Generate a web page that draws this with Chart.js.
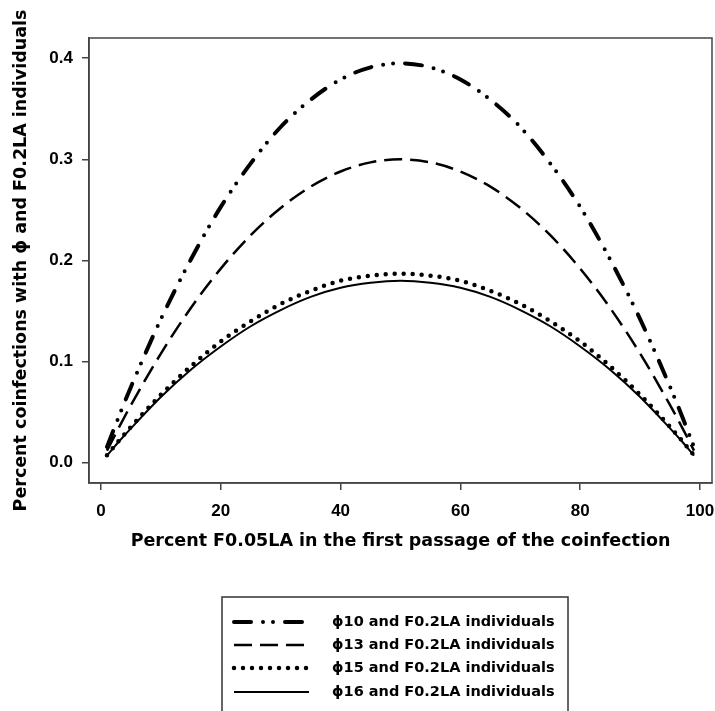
<!DOCTYPE html>
<html>
<head>
<meta charset="utf-8">
<script src="https://cdn.jsdelivr.net/npm/chart.js@4"></script>
<style>
  html, body { margin: 0; padding: 0; background: #fff; }
  #wrap { width: 715px; height: 711px; }
</style>
</head>
<body>
<div id="wrap"><canvas id="chart" width="715" height="711"></canvas></div>
<script>
// percent F0.05LA in first passage
const percentF005 = [1, 3, 5, 10, 15, 20, 25, 30, 35, 40, 45, 50, 55, 60, 65, 70, 75, 80, 85, 90, 95, 97, 99];

const phi10 = [0.0156, 0.046, 0.075, 0.142, 0.201, 0.253, 0.296, 0.332, 0.359, 0.379, 0.391, 0.395,
  0.391, 0.379, 0.359, 0.332, 0.296, 0.253, 0.201, 0.142, 0.075, 0.046, 0.0156];
const phi13 = [0.012, 0.035, 0.057, 0.108, 0.153, 0.192, 0.225, 0.252, 0.273, 0.288, 0.297, 0.300,
  0.297, 0.288, 0.273, 0.252, 0.225, 0.192, 0.153, 0.108, 0.057, 0.035, 0.012];
const phi15 = [0.0074, 0.0218, 0.0355, 0.0673, 0.0954, 0.120, 0.140, 0.157, 0.170, 0.180, 0.185, 0.187,
  0.185, 0.180, 0.170, 0.157, 0.140, 0.120, 0.0954, 0.0673, 0.0355, 0.0218, 0.0074];
const phi16 = [0.0071, 0.021, 0.034, 0.065, 0.092, 0.115, 0.135, 0.151, 0.164, 0.173, 0.178, 0.180,
  0.178, 0.173, 0.164, 0.151, 0.135, 0.115, 0.092, 0.065, 0.034, 0.021, 0.0071];

const seriesLabels = [
  "\u03d510 and F0.2LA individuals",
  "\u03d513 and F0.2LA individuals",
  "\u03d515 and F0.2LA individuals",
  "\u03d516 and F0.2LA individuals"
];
const xTicks = [0, 20, 40, 60, 80, 100];
const yTicks = [0.0, 0.1, 0.2, 0.3, 0.4];

const tickFamily = "'Liberation Sans', Arial, sans-serif";
const textFamily = "'DejaVu Sans', 'Liberation Sans', sans-serif";

Chart.defaults.font.family = tickFamily;
Chart.defaults.font.weight = "bold";
Chart.defaults.color = "#000";

const toPoints = (ys) => ys.map((y, i) => ({ x: percentF005[i], y: y }));

const lineStyles = [
  { borderWidth: 4, borderDash: [17, 12, 0, 10, 0, 12], borderCapStyle: "round" },
  { borderWidth: 2.5, borderDash: [18, 8], borderCapStyle: "butt" },
  { borderWidth: 4.5, borderDash: [0, 9], borderCapStyle: "round" },
  { borderWidth: 2, borderDash: [], borderCapStyle: "butt" }
];

const allSeries = [phi10, phi13, phi15, phi16];

// box around plot + legend drawn by hand (R style)
const framePlugin = {
  id: "frame",
  afterDraw(chart) {
    const { ctx, chartArea: a } = chart;
    ctx.save();
    ctx.strokeStyle = "#444";
    ctx.lineWidth = 1.5;
    ctx.strokeRect(a.left, a.top, a.right - a.left, a.bottom - a.top);

    // legend
    ctx.strokeStyle = "#333";
    ctx.lineWidth = 1.5;
    ctx.strokeRect(222, 597, 346, 130);
    const rowsY = [622, 645, 668, 692];
    chart.data.datasets.forEach((ds, i) => {
      const y = rowsY[i];
      ctx.strokeStyle = "#000";
      ctx.lineWidth = ds.borderWidth;
      ctx.lineCap = ds.borderCapStyle;
      ctx.setLineDash(ds.borderDash);
      ctx.beginPath();
      ctx.moveTo(234, y);
      ctx.lineTo(309, y);
      ctx.stroke();
      ctx.setLineDash([]);
      ctx.fillStyle = "#000";
      ctx.font = "bold 14.5px " + textFamily;
      ctx.textBaseline = "middle";
      ctx.textAlign = "left";
      ctx.fillText(ds.label, 332, y);
    });
    ctx.restore();
  }
};

new Chart(document.getElementById("chart"), {
  type: "line",
  data: {
    datasets: allSeries.map((ys, i) => ({
      label: seriesLabels[i],
      data: toPoints(ys),
      borderColor: "#000",
      backgroundColor: "#000",
      pointRadius: 0,
      cubicInterpolationMode: "monotone",
      fill: false,
      ...lineStyles[i]
    }))
  },
  options: {
    responsive: false,
    animation: false,
    layout: { padding: { top: 38, right: 3, bottom: 138, left: 0 } },
    plugins: {
      legend: { display: false },
      tooltip: { enabled: false }
    },
    scales: {
      x: {
        type: "linear",
        min: -2,
        max: 102,
        afterBuildTicks: (s) => { s.ticks = xTicks.map((v) => ({ value: v })); },
        afterFit: (s) => { s.height = 90; s.paddingLeft = 0; s.paddingRight = 0; },
        grid: { drawOnChartArea: false, tickLength: 7, color: "#444", lineWidth: 1.5 },
        border: { display: true, color: "#444", width: 1.5 },
        ticks: { font: { size: 17, weight: "bold" }, padding: 11, maxRotation: 0 },
        title: {
          display: true,
          text: "Percent F0.05LA in the first passage of the coinfection",
          font: { family: textFamily, size: 17.5, weight: "bold" },
          padding: { top: 0, bottom: 21 }
        }
      },
      y: {
        type: "linear",
        min: -0.02,
        max: 0.42,
        afterBuildTicks: (s) => { s.ticks = yTicks.map((v) => ({ value: v })); },
        afterFit: (s) => { s.width = 89; s.paddingTop = 0; s.paddingBottom = 0; },
        grid: { drawOnChartArea: false, tickLength: 7, color: "#444", lineWidth: 1.5 },
        border: { display: true, color: "#444", width: 1.5 },
        ticks: {
          font: { size: 17, weight: "bold" },
          padding: 9,
          callback: (v) => v.toFixed(1)
        },
        title: {
          display: true,
          text: "Percent coinfections with \u03d5 and F0.2LA individuals",
          font: { family: textFamily, size: 17.5, weight: "bold" },
          padding: { top: 11, bottom: 0 }
        }
      }
    }
  },
  plugins: [framePlugin]
});
</script>
</body>
</html>
